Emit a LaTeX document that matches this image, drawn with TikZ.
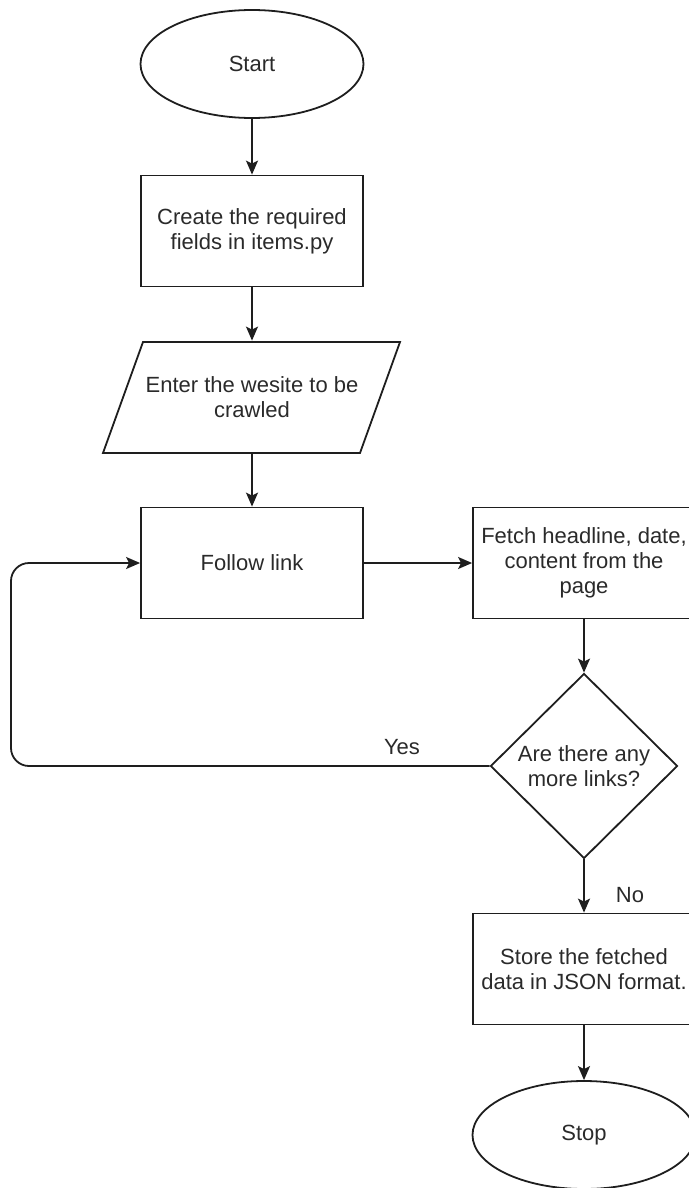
\documentclass[tikz,border=0pt]{standalone}
\usepackage{fontspec}
\setmainfont{Liberation Sans}
\usetikzlibrary{shapes.geometric,arrows.meta}
\definecolor{ink}{HTML}{1E1E1E}
\definecolor{txt}{HTML}{2A2A2A}
\begin{document}
\begin{tikzpicture}[x=0.5pt,y=-0.5pt,
  line width=0.9pt,
  every node/.style={font=\fontsize{11}{12.5}\selectfont, text=txt, align=center},
  process/.style={draw=ink, rectangle, minimum width=111pt, minimum height=55.5pt, inner sep=0pt},
  terminal/.style={draw=ink, ellipse, minimum width=111.5pt, minimum height=54pt, inner sep=0pt},
  decision/.style={draw=ink, diamond, minimum width=93.5pt, minimum height=92.5pt, inner sep=0pt},
  flow/.style={draw=ink, -{Stealth[length=7pt,width=6pt,inset=1.5pt]}},
  lbl/.style={font=\fontsize{11}{12.5}\selectfont}]
  \useasboundingbox (0,0) rectangle (689,1188);
  \clip (0,0) rectangle (689,1188);

  % main column
  \node[terminal] (start) at (252,64) {Start};
  \node[process] (fields) at (252,231) {Create the required\\fields in items.py};
  % input: text node, outline drawn as a parallelogram below
  \node[minimum width=148.5pt, minimum height=55.5pt, inner sep=0pt] (site) at (252,397) {Enter the wesite to be\\crawled};
  \draw[ink] (143,342) -- (400,342) -- (360,453) -- (103,453) -- cycle;
  \node[process] (follow) at (252,563) {Follow link};

  % right column
  \node[process] (fetch) at (584,563) {Fetch headline, date,\\content from the\\page};
  \node[decision] (more) at (584,766) {Are there any\\more links?};
  \node[process] (store) at (584,969) {Store the fetched\\data in JSON format.};
  \node[terminal] (stop) at (584,1135) {Stop};

  % connectors
  \draw[flow] (start) -- (fields);
  \draw[flow] (fields) -- (site);
  \draw[flow] (site) -- (follow);
  \draw[flow] (follow) -- (fetch);
  \draw[flow] (fetch) -- (more);
  \draw[flow] (more) -- (store);
  \draw[flow] (store) -- (stop);

  \coordinate (loopb) at (11,766);
  \coordinate (loopt) at (11,563);
  \draw[flow, rounded corners=9pt] (more.west) -- (loopb) -- (loopt) -- (follow.west);

  \node[lbl] (yes) at (402,747) {Yes};
  \node[lbl] (no) at (630,895) {No};
\end{tikzpicture}
\end{document}
